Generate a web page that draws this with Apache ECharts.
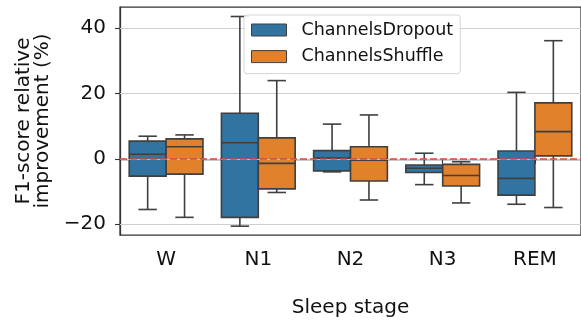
<!DOCTYPE html>
<html>
<head>
<meta charset="utf-8">
<script src="https://cdn.jsdelivr.net/npm/echarts@6/dist/echarts.min.js"></script>
<style>
  html, body { margin: 0; padding: 0; background: #fff; }
  #chart { width: 581px; height: 327px; }
</style>
</head>
<body>
<div id="chart"></div>
<script>
// Sleep stages on the x axis
const stages = ['W', 'N1', 'N2', 'N3', 'REM'];

// Five-number summaries per stage: [lower whisker, Q1, median, Q3, upper whisker]
const channelsDropout = [
  [-15.5, -5.3, 1.4, 5.4, 6.9],
  [-20.6, -17.9, 4.9, 13.9, 43.5],
  [-4.0, -3.7, 0.2, 2.5, 10.6],
  [-7.9, -4.2, -2.9, -1.9, 1.7],
  [-13.9, -11.1, -6.0, 2.4, 20.3]
];
const channelsShuffle = [
  [-17.9, -4.7, 3.7, 6.1, 7.3],
  [-10.3, -9.2, -1.4, 6.4, 23.9],
  [-12.6, -6.8, -0.4, 3.7, 13.4],
  [-13.5, -8.3, -5.1, -1.7, -0.9],
  [-14.9, 0.9, 8.3, 17.1, 36.1]
];

const yTicks = [-20, 0, 20, 40];
const yRange = [-23.3, 46.4];

const FONT = 'DejaVu Sans';
const EDGE = '#3f3f3f';

function toRows(stats) {
  return stats.map((s, i) => [i].concat(s));
}

// Draws one box with whiskers and caps; side = -1 (left of the category) or +1 (right)
function boxRenderer(side) {
  return function (params, api) {
    const cat = api.value(0);
    const band = api.size([1, 0])[0];
    const boxW = band * 0.4;
    const cx = api.coord([cat, 0])[0] + side * boxW / 2;
    const y = (k) => api.coord([cat, api.value(k)])[1];
    const yLow = y(1), yQ1 = y(2), yMed = y(3), yQ3 = y(4), yHigh = y(5);
    const capW = boxW / 2;
    const line = { stroke: EDGE, lineWidth: 1.6 };
    return {
      type: 'group',
      children: [
        { type: 'line', shape: { x1: cx, y1: yQ3, x2: cx, y2: yHigh }, style: line },
        { type: 'line', shape: { x1: cx, y1: yQ1, x2: cx, y2: yLow }, style: line },
        { type: 'line', shape: { x1: cx - capW / 2, y1: yHigh, x2: cx + capW / 2, y2: yHigh }, style: line },
        { type: 'line', shape: { x1: cx - capW / 2, y1: yLow, x2: cx + capW / 2, y2: yLow }, style: line },
        { type: 'rect', shape: { x: cx - boxW / 2, y: yQ3, width: boxW, height: yQ1 - yQ3 },
          style: { fill: api.visual('color'), stroke: EDGE, lineWidth: 1.6 } },
        { type: 'line', shape: { x1: cx - boxW / 2, y1: yMed, x2: cx + boxW / 2, y2: yMed }, style: line }
      ]
    };
  };
}

const chart = echarts.init(document.getElementById('chart'), null, { renderer: 'canvas' });

chart.setOption({
  animation: false,
  backgroundColor: '#fff',
  textStyle: { fontFamily: FONT },
  grid: {
    left: 120, top: 7, width: 463.6, height: 228,
    show: true, borderColor: '#333', borderWidth: 1.25, backgroundColor: 'transparent'
  },
  legend: {
    data: ['ChannelsDropout', 'ChannelsShuffle'],
    orient: 'vertical',
    left: 244, top: 15,
    z: 20,
    icon: 'rect',
    itemWidth: 35, itemHeight: 12, itemGap: 8.6,
    padding: [6, 7, 8, 7],
    backgroundColor: 'rgba(255,255,255,0.9)',
    borderColor: '#d6d6d6', borderWidth: 1, borderRadius: 3,
    itemStyle: { borderColor: EDGE, borderWidth: 1 },
    textStyle: { fontFamily: FONT, fontSize: 17.5, color: '#111', lineHeight: 17, padding: [0, 0, 0, 10] },
    selectedMode: false
  },
  xAxis: {
    type: 'category',
    data: stages,
    boundaryGap: true,
    name: 'Sleep stage',
    nameLocation: 'middle',
    nameGap: 63,
    nameTextStyle: { fontFamily: FONT, fontSize: 20, color: '#111' },
    axisLine: { show: true, lineStyle: { color: '#333', width: 1.25 } },
    axisTick: { show: true, alignWithLabel: true, length: 5, lineStyle: { color: '#333', width: 1.1 } },
    axisLabel: { margin: 15, fontFamily: FONT, fontSize: 20, color: '#111' },
    splitLine: { show: false }
  },
  yAxis: {
    type: 'value',
    min: yRange[0], max: yRange[1],
    name: 'F1-score relative\nimprovement (%)',
    nameLocation: 'middle',
    nameGap: 67,
    nameTextStyle: { fontFamily: FONT, fontSize: 20, color: '#111', lineHeight: 19.5, align: 'center' },
    axisLine: { show: true, lineStyle: { color: '#333', width: 1.25 } },
    axisTick: { show: true, length: 5, customValues: yTicks, lineStyle: { color: '#333', width: 1.1 } },
    axisLabel: {
      customValues: yTicks, margin: 14, fontFamily: FONT, fontSize: 20, color: '#111',
      formatter: (v) => (v < 0 ? '\u2212' + Math.abs(v) : String(v))
    },
    splitLine: { show: false }
  },
  series: [
    {
      // horizontal grid lines
      type: 'line', data: [], silent: true, z: 0,
      markLine: {
        silent: true, symbol: 'none', animation: false, z: 1,
        label: { show: false },
        lineStyle: { color: '#cfcfcf', width: 1.1, type: 'solid' },
        emphasis: { disabled: true },
        data: yTicks.map((v) => ({ yAxis: v }))
      }
    },
    {
      name: 'ChannelsDropout',
      type: 'custom',
      renderItem: boxRenderer(-1),
      itemStyle: { color: '#3274a1', borderColor: EDGE },
      encode: { x: 0, y: [1, 2, 3, 4, 5] },
      data: toRows(channelsDropout),
      z: 2
    },
    {
      name: 'ChannelsShuffle',
      type: 'custom',
      renderItem: boxRenderer(1),
      itemStyle: { color: '#e1812c', borderColor: EDGE },
      encode: { x: 0, y: [1, 2, 3, 4, 5] },
      data: toRows(channelsShuffle),
      z: 2
    },
    {
      // zero reference: grey grid line with a red dashed line over it
      type: 'line', data: [], silent: true, z: 5,
      markLine: {
        silent: true, symbol: 'none', animation: false,
        label: { show: false },
        emphasis: { disabled: true },
        data: [
          { yAxis: 0, lineStyle: { color: '#bdbdbd', width: 1.1, type: 'solid' } },
          { yAxis: 0, lineStyle: { color: '#d9473f', width: 1.6, type: [7, 3] } }
        ]
      }
    }
  ]
});
</script>
</body>
</html>
